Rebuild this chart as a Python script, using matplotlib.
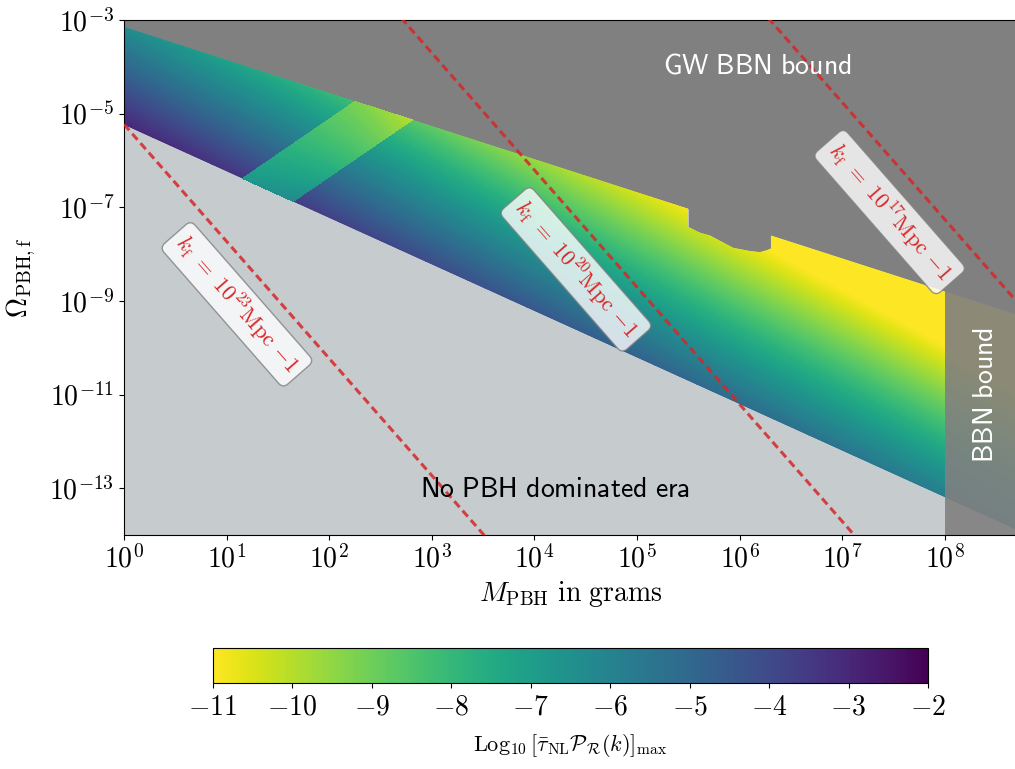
import numpy as np
import matplotlib

matplotlib.use("Agg")
import matplotlib.pyplot as plt
from matplotlib.patches import Polygon
from matplotlib.ticker import NullLocator
from matplotlib.colors import Normalize
from matplotlib.cm import ScalarMappable

plt.rcParams["mathtext.fontset"] = "cm"

# axis ranges (grams, Omega_PBH,f)
mass_range = [1.0, 5e8]
omega_range = [1e-14, 1e-3]

# lower edge: no PBH dominated era below it
lower_mass = [1.0, 5e8]
lower_omega = [5.8e-6, 1.3e-14]

# upper edge: GW BBN bound (with the notch near 1e6 g)
upper_mass = [1.0, 3.14e5, 3.14e5, 4.11e5, 5.14e5, 8.63e5, 1.26e6,
              1.58e6, 1.85e6, 2.02e6, 2.02e6, 5e8]
upper_omega = [7.1e-4, 9.3e-8, 3.83e-8, 2.85e-8, 2.49e-8, 1.36e-8, 1.16e-8,
               1.10e-8, 1.21e-8, 1.32e-8, 2.5e-8, 5.1e-10]

bbn_mass = 1e8

mass_nodes = [1.0, 1e2, 1e4, 1e6, 1e8, 5e8]
omega_nodes = [1e-3, 1e-5, 1e-7, 1e-9, 1e-11, 1e-13, 1e-14]
field_table = [
    [-6.6, -10.5, -14.4, -18.3, -22.1, -23.5],
    [-3.4, -7.3, -11.2, -15.1, -18.9, -20.3],
    [-0.2, -4.1, -8.0, -11.9, -15.7, -17.1],
    [3.0, -0.9, -4.8, -8.7, -12.5, -13.9],
    [6.2, 2.3, -1.6, -5.5, -9.3, -10.7],
    [9.4, 5.5, 1.6, -2.3, -6.1, -7.5],
    [11.0, 7.1, 3.2, -0.7, -4.5, -5.9],
]

# shifted strip around 10-600 g (corners: bottom-left, top-left, top-right, bottom-right)
band_mass = [14.3, 178.6, 645.7, 44.5]
band_omega = [4.12e-7, 1.82e-5, 7.36e-6, 1.33e-7]
band_values = [-6.8, -9.2, -10.0, -6.3]

# k_f = const lines, end points at M = 1 g and M = 5e8 g
kf_exponents = [23, 20, 17]
kf_omega_left = [5.9e-6, 6.3e3, 5.5e12]
kf_omega_right = [1.05e-27, 1.1e-18, 9.8e-10]
kf_label_mass = [12.6, 2.54e4, 2.9e7]
kf_label_omega = [8.45e-10, 4.71e-9, 7.9e-8]

x_tick_exponents = list(range(0, 9))
y_tick_exponents = [-3, -5, -7, -9, -11, -13]
cbar_ticks = list(range(-11, -1))

fig = plt.figure(figsize=(10.15, 7.69), dpi=100)
ax = fig.add_axes([0.1222, 0.3043, 0.8793, 0.6697])
ax.set_xscale("log")
ax.set_yscale("log")
ax.set_xlim(*mass_range)
ax.set_ylim(*omega_range)

ax.fill_between(upper_mass, upper_omega, omega_range[1], color="#808080", lw=0, zorder=1)
ax.fill_between(lower_mass, omega_range[0], lower_omega, color="#c6cbce", lw=0, zorder=1)

# contour in log10 coordinates so interpolation is linear in log-log
log_tr = ax.transLimits + ax.transAxes
levels = np.linspace(-11, -2, 181)
LM, LO = np.meshgrid(np.log10(mass_nodes), np.log10(omega_nodes))
field = ax.contourf(LM, LO, np.array(field_table), levels=levels, cmap="viridis_r",
                    extend="both", transform=log_tr, zorder=1.5)
region = Polygon(np.column_stack([upper_mass + lower_mass[::-1],
                                  upper_omega + lower_omega[::-1]]),
                 closed=True, transform=ax.transData)
field.set_clip_path(region)

bm = np.log10(band_mass)
bo = np.log10(band_omega)
BX = np.array([[bm[0], bm[3]], [bm[1], bm[2]]])
BY = np.array([[bo[0], bo[3]], [bo[1], bo[2]]])
BZ = np.array([[band_values[0], band_values[3]], [band_values[1], band_values[2]]])
ax.contourf(BX, BY, BZ, levels=levels, cmap="viridis_r", extend="both",
            transform=log_tr, zorder=1.6)

ax.axvspan(bbn_mass, mass_range[1], color="#808080", alpha=0.9, lw=0, zorder=2)

for i, e in enumerate(kf_exponents):
    ax.plot(mass_range, [kf_omega_left[i], kf_omega_right[i]], ls="--",
            dashes=(2.6, 1.5), color="tab:red", alpha=0.85, lw=2.2, zorder=3)
    ax.text(kf_label_mass[i], kf_label_omega[i],
            rf"$k_{{\rm f}}\ =\ 10^{{{e}}}{{\rm Mpc}}\ {{-1}}$",
            rotation=-48.8, rotation_mode="anchor", ha="center", va="center",
            color="tab:red", fontsize=16, zorder=4,
            bbox=dict(boxstyle="round,pad=0.3", fc="white", ec="gray", alpha=0.8))

ax.text(1.48e6, 1.05e-4, r"$\mathsf{GW\ BBN\ bound}$", color="white",
        fontsize=20, ha="center", va="center", zorder=5)
ax.text(1.58e4, 9.8e-14, r"$\mathsf{No\ PBH\ dominated\ era}$", color="black",
        fontsize=20, ha="center", va="center", zorder=5)
ax.text(2.46e8, 9.8e-12, r"$\mathsf{BBN\ bound}$", color="white", rotation=90,
        fontsize=20, ha="center", va="center", zorder=5)

ax.set_xticks([10.0 ** e for e in x_tick_exponents],
              labels=[rf"$10^{{{e}}}$" for e in x_tick_exponents])
ax.set_yticks([10.0 ** e for e in y_tick_exponents],
              labels=[rf"$10^{{{e}}}$" for e in y_tick_exponents])
ax.xaxis.set_minor_locator(NullLocator())
ax.yaxis.set_minor_locator(NullLocator())
ax.tick_params(labelsize=20)
ax.set_xlabel(r"$M_{\rm PBH}\ {\rm in\ grams}$", fontsize=20)
ax.set_ylabel(r"$\Omega_{\rm PBH,f}$", fontsize=20, labelpad=8)
ax.set_xlim(*mass_range)
ax.set_ylim(*omega_range)

cax = fig.add_axes([0.2099, 0.1118, 0.7044, 0.0455])
sm = ScalarMappable(norm=Normalize(-11, -2), cmap="viridis_r")
cb = fig.colorbar(sm, cax=cax, orientation="horizontal")
cb.set_ticks(cbar_ticks, labels=[rf"${t}$" for t in cbar_ticks])
cb.ax.tick_params(labelsize=20)
cb.set_label(r"${\rm Log}_{10}\,[\bar{\tau}_{\rm NL}\mathcal{P}_{\mathcal{R}}(k)]_{\rm max}$",
             fontsize=16, labelpad=8)

fig.savefig("out.png", dpi=100)
